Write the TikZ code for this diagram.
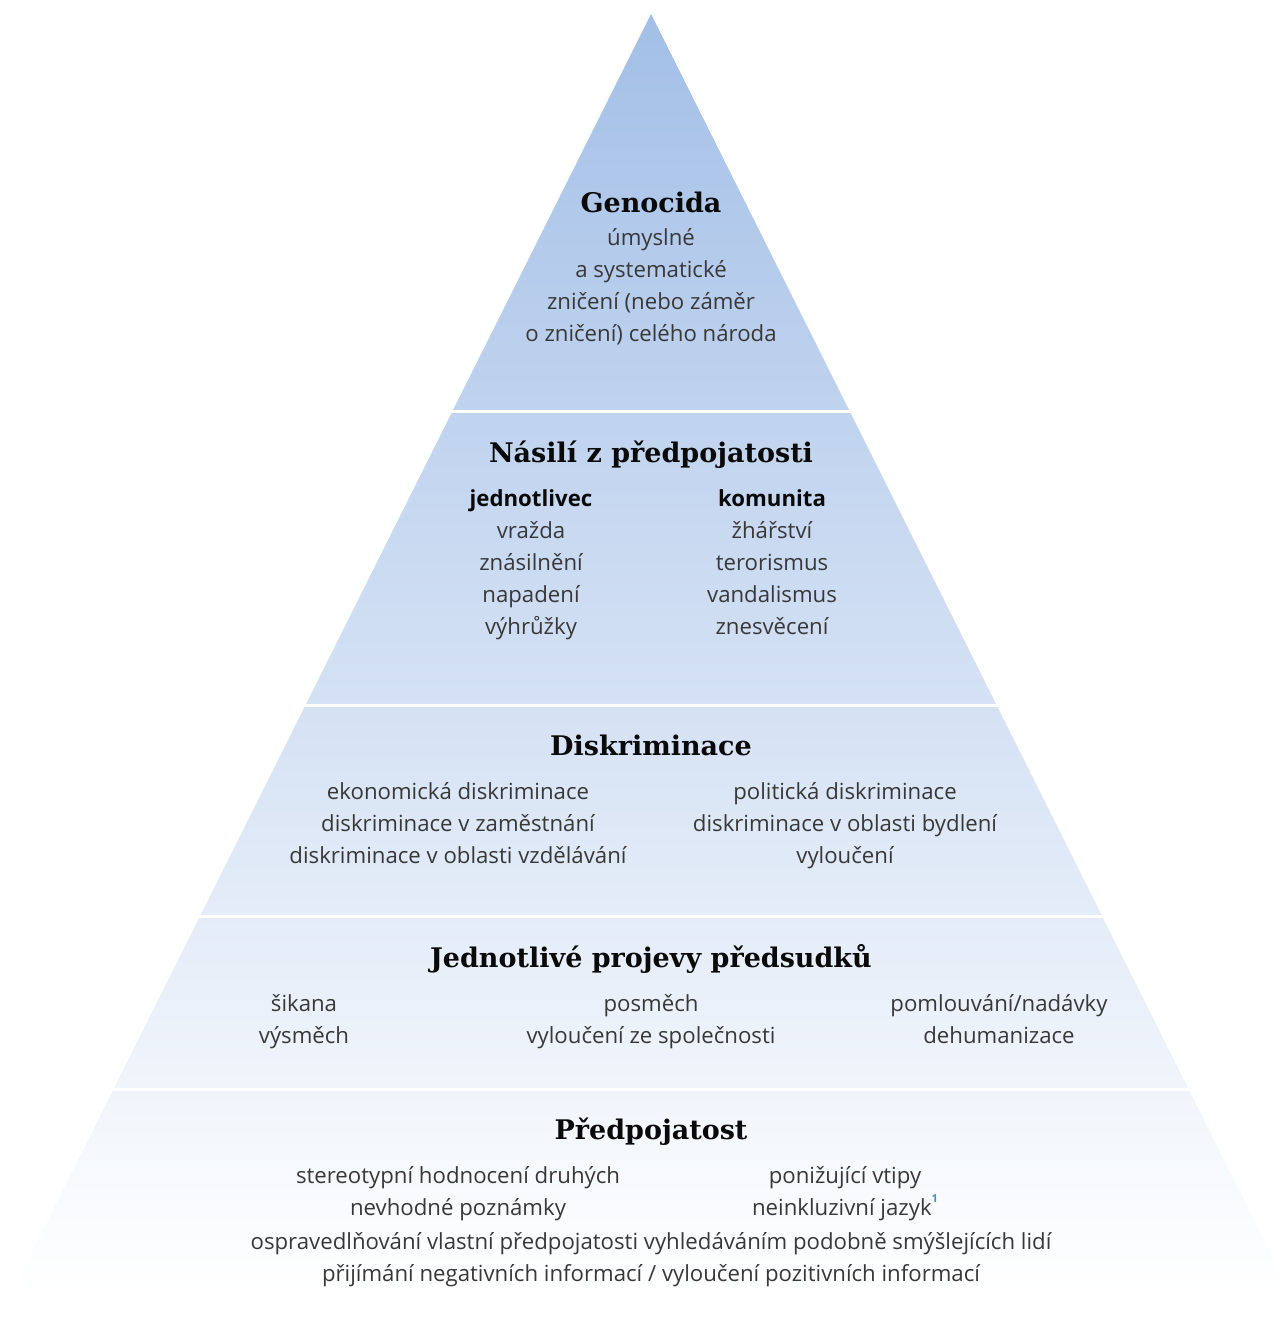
\documentclass[tikz,border=0pt]{standalone}
\usepackage{fontspec}
\setmainfont{Open Sans}
\newfontfamily\titlefont{DejaVu Serif}
\usetikzlibrary{shadings}
\definecolor{topblue}{HTML}{A3BFE7}
\definecolor{txt}{HTML}{383838}
\definecolor{ttl}{HTML}{0A0A0A}
\definecolor{supblue}{HTML}{3A8FD8}
\tikzset{
  body/.style={anchor=base, text=txt, inner sep=0pt, font=\fontsize{22.2}{26}\selectfont},
  bodyb/.style={body, font=\fontsize{22.2}{26}\selectfont\bfseries, text=ttl},
  ttlnode/.style={anchor=base, text=ttl, inner sep=0pt, font=\titlefont\bfseries\fontsize{27}{32}\selectfont},
  gap/.style={draw=white, line width=3pt}
}
\begin{document}
\begin{tikzpicture}[x=1pt,y=-1pt]
\useasboundingbox (0,0) rectangle (1284,1326);
\shade[top color=topblue, bottom color=white, middle color=topblue!50!white] (651,14) -- (1289,1290) -- (13,1290) -- cycle;
\coordinate (l1) at (440,411); \coordinate (r1) at (862,411);
\coordinate (l2) at (290,705); \coordinate (r2) at (1012,705);
\coordinate (l3) at (190,916); \coordinate (r3) at (1112,916);
\coordinate (l4) at (100,1089); \coordinate (r4) at (1202,1089);
\draw[gap] (l1) -- (r1);
\draw[gap] (l2) -- (r2);
\draw[gap] (l3) -- (r3);
\draw[gap] (l4) -- (r4);
% Genocida
\node[ttlnode] (t1) at (651,212) {Genocida};
\node[body] (g1) at (651,245) {úmyslné};
\node[body] (g2) at (651,277) {a systematické};
\node[body] (g3) at (651,309) {zničení (nebo záměr};
\node[body] (g4) at (651,341) {o zničení) celého národa};
% Nasili
\node[ttlnode] (t2) at (651,462) {Násilí z předpojatosti};
\node[bodyb] (n0) at (531,506) {jednotlivec};
\node[body] (n1) at (531,538) {vražda};
\node[body] (n2) at (531,570) {znásilnění};
\node[body] (n3) at (531,602) {napadení};
\node[body] (n4) at (531,634) {výhrůžky};
\node[bodyb] (k0) at (772,506) {komunita};
\node[body] (k1) at (772,538) {žhářství};
\node[body] (k2) at (772,570) {terorismus};
\node[body] (k3) at (772,602) {vandalismus};
\node[body] (k4) at (772,634) {znesvěcení};
% Diskriminace
\node[ttlnode] (t3) at (651,755) {Diskriminace};
\node[body] (d1) at (458,799) {ekonomická diskriminace};
\node[body] (d2) at (458,831) {diskriminace v zaměstnání};
\node[body] (d3) at (458,863) {diskriminace v oblasti vzdělávání};
\node[body] (d4) at (845,799) {politická diskriminace};
\node[body] (d5) at (845,831) {diskriminace v oblasti bydlení};
\node[body] (d6) at (845,863) {vyloučení};
% Projevy
\node[ttlnode] (t4) at (651,967) {Jednotlivé projevy předsudků};
\node[body] (p1) at (304,1011) {šikana};
\node[body] (p2) at (304,1043) {výsměch};
\node[body] (p3) at (651,1011) {posměch};
\node[body] (p4) at (651,1043) {vyloučení ze společnosti};
\node[body] (p5) at (999,1011) {pomlouvání/nadávky};
\node[body] (p6) at (999,1043) {dehumanizace};
% Predpojatost
\node[ttlnode] (t5) at (651,1139) {Předpojatost};
\node[body] (s1) at (458,1183) {stereotypní hodnocení druhých};
\node[body] (s2) at (458,1215) {nevhodné poznámky};
\node[body] (s3) at (845,1183) {ponižující vtipy};
\node[body] (s4) at (845,1215) {neinkluzivní jazyk\raisebox{0.55em}{\fontsize{11}{11}\selectfont\bfseries\color{supblue}1}};
\node[body] (s5) at (651,1249) {ospravedlňování vlastní předpojatosti vyhledáváním podobně smýšlejících lidí};
\node[body] (s6) at (651,1281) {přijímání negativních informací / vyloučení pozitivních informací};
\end{tikzpicture}
\end{document}
